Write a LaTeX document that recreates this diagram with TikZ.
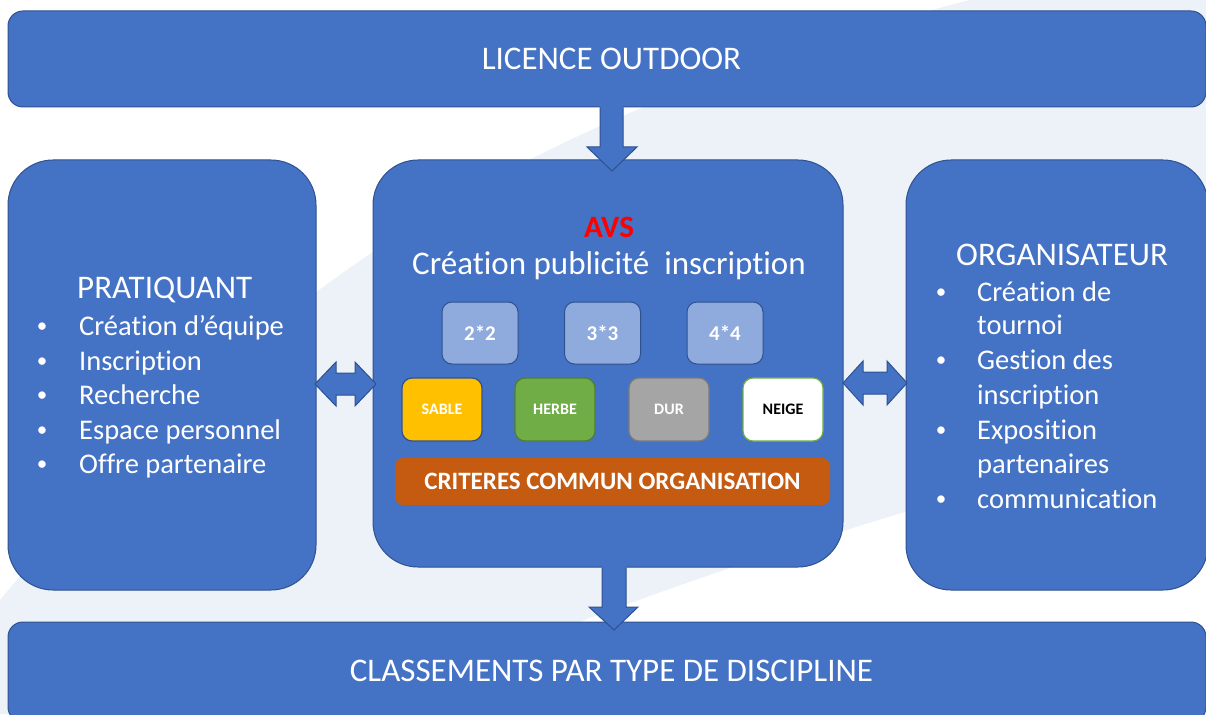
\documentclass[tikz,border=0pt]{standalone}
\usepackage{fontspec}
\setmainfont[Ligatures=NoCommon]{Carlito}
\definecolor{mainblue}{HTML}{4472C4}
\definecolor{edgeblue}{HTML}{2F528F}
\definecolor{lightbox}{HTML}{8FAADC}
\definecolor{bglight}{HTML}{EDF2F9}
\definecolor{sable}{HTML}{FFC000}
\definecolor{herbe}{HTML}{70AD47}
\definecolor{herbeedge}{HTML}{507E32}
\definecolor{dur}{HTML}{A5A5A5}
\definecolor{duredge}{HTML}{7B7B7B}
\definecolor{crit}{HTML}{C55A11}
\definecolor{avsred}{HTML}{FF0000}
\begin{document}
\begin{tikzpicture}[x=1pt,y=-1pt,
  bigbox/.style={draw=edgeblue, fill=mainblue, line width=1pt, rounded corners=45pt, inner sep=0pt},
  barbox/.style={draw=edgeblue, fill=mainblue, line width=1pt, rounded corners=15pt, inner sep=0pt},
  fmtbox/.style={draw=edgeblue, fill=lightbox, line width=1pt, rounded corners=10pt, inner sep=0pt,
     minimum width=76pt, minimum height=62pt, text=white, font=\fontsize{21}{24}\selectfont\bfseries},
  surfbox/.style={line width=1.2pt, rounded corners=10pt, inner sep=0pt,
     minimum width=80pt, minimum height=63pt, font=\fontsize{16}{19}\selectfont\bfseries},
  titletxt/.style={text=white, font=\fontsize{33}{38}\selectfont, inner sep=0pt},
  bodytxt/.style={text=white, font=\fontsize{28.5}{34}\selectfont, inner sep=0pt, anchor=base west},
  bullettxt/.style={text=white, font=\fontsize{21}{24}\selectfont, inner sep=0pt, anchor=base},
  arrowfill/.style={fill=mainblue},
  arrowedge/.style={draw=edgeblue, line width=1pt, line join=miter}
]
\useasboundingbox (0,0) rectangle (1206,714);
\fill[white] (0,0) rectangle (1206,714);
\fill[bglight] (0,600) .. controls (250,300) and (500,120) .. (970,0) -- (1206,0) -- (1206,430)
   .. controls (800,530) and (550,630) .. (350,714) -- (0,714) -- cycle;

% main boxes
\node[barbox, minimum width=1198pt, minimum height=96pt] (top) at (607,59) {};
\node[barbox, minimum width=1198pt, minimum height=100pt] (bottom) at (607,672) {};
\node[bigbox, minimum width=308pt, minimum height=430pt] (prat) at (162,375) {};
\node[bigbox, minimum width=470pt, minimum height=407pt] (avs) at (608,363.5) {};
\node[bigbox, minimum width=302pt, minimum height=430pt] (orga) at (1057,375) {};

% block arrows
\fill[arrowfill] (600,106) -- (600,147) -- (587,147) -- (612,171) -- (637,147) -- (623,147) -- (623,106) -- cycle;
\draw[arrowedge] (600,107.5) -- (600,147) -- (587,147) -- (612,171) -- (637,147) -- (623,147) -- (623,107.5);
\fill[arrowfill] (602,566) -- (602,607) -- (589,607) -- (614,630) -- (638,607) -- (626,607) -- (626,566) -- cycle;
\draw[arrowedge] (602,567.5) -- (602,607) -- (589,607) -- (614,630) -- (638,607) -- (626,607) -- (626,567.5);
\filldraw[arrowfill, arrowedge] (315,384) -- (336,362) -- (336,373) -- (355,373) -- (355,362) -- (376,384)
   -- (355,406) -- (355,395) -- (336,395) -- (336,406) -- cycle;
\filldraw[arrowfill, arrowedge] (843,383) -- (863,361) -- (863,372) -- (887,372) -- (887,361) -- (907,383)
   -- (887,405) -- (887,394) -- (863,394) -- (863,405) -- cycle;

% bar texts
\node[titletxt, anchor=base] (toptxt) at (611.5,70) {LICENCE OUTDOOR};
\node[titletxt, anchor=base] (bottxt) at (611.5,681) {CLASSEMENTS PAR TYPE DE DISCIPLINE};

% center content
\node[text=avsred, font=\fontsize{31}{36}\selectfont\bfseries, inner sep=0pt, anchor=base] (avstitle) at (609,237) {AVS};
\node[titletxt, anchor=base] (avssub) at (609,274) {Création publicité\ \ inscription};
\node[fmtbox] (f2) at (480,333) {2*2};
\node[fmtbox] (f3) at (602.5,333) {3*3};
\node[fmtbox] (f4) at (725,333) {4*4};
\node[surfbox, draw=edgeblue, fill=sable, text=white] (sab) at (442,409.5) {SABLE};
\node[surfbox, draw=herbeedge, fill=herbe, text=white] (her) at (555,409.5) {HERBE};
\node[surfbox, draw=duredge, fill=dur, text=white] (dur) at (669,409.5) {DUR};
\node[surfbox, draw=herbe, fill=white, text=black] (nei) at (783,409.5) {NEIGE};
\node[fill=crit, rounded corners=8pt, inner sep=0pt, minimum width=435pt, minimum height=47pt,
   text=white, font=\fontsize{25}{29}\selectfont\bfseries] (crit) at (612.5,481.5) {CRITERES COMMUN ORGANISATION};

% left content
\node[titletxt, anchor=base west] (pt) at (77,298) {PRATIQUANT};
\foreach \y/\t [count=\i] in {335/{Création d’équipe},370/Inscription,404/Recherche,439/Espace personnel,473/Offre partenaire}{
  \node[bodytxt] (pl\i) at (79,\y) {\t};
  \node[bullettxt] (pb\i) at (42,\y-3) {•};
}

% right content
\node[titletxt, anchor=base west] (ot) at (956,265) {ORGANISATEUR};
\foreach \y/\t [count=\i] in {301/Création de,334/tournoi,369/Gestion des,404/inscription,439/Exposition,473/partenaires,508/communication}{
  \node[bodytxt] (ol\i) at (977,\y) {\t};
}
\foreach \y [count=\i] in {301,369,439,508}{
  \node[bullettxt] (ob\i) at (941,\y-3) {•};
}
\end{tikzpicture}
\end{document}
